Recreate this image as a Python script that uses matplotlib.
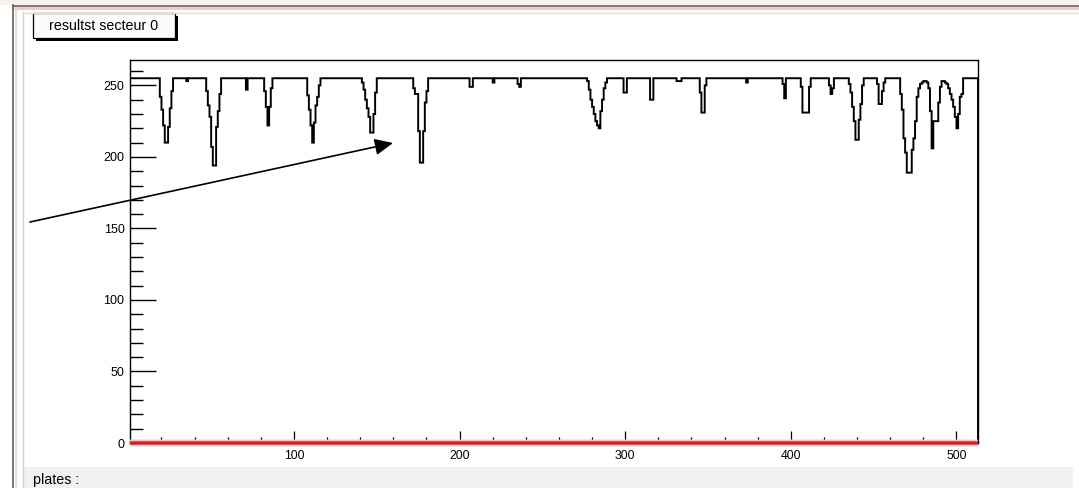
import numpy as np
import matplotlib
matplotlib.use("Agg")
import matplotlib.pyplot as plt
from matplotlib.patches import Rectangle, FancyArrowPatch
from matplotlib.lines import Line2D
from matplotlib.ticker import MultipleLocator

plt.rcParams["font.family"] = ["Liberation Sans", "DejaVu Sans"]

# ---------------- data ----------------
n_bins = 512
x_lo, x_hi = 1, 513
plateau = 255

# first bin of every group of counts that drops below the plateau
dip_start = [19, 35, 47, 71, 82, 108, 141, 172, 206, 220, 235, 277, 299,
             315, 331, 345, 373, 395, 406, 423, 435, 452, 466]
# counts of the consecutive bins of each group
dip_counts = [
    [242, 233, 222, 210, 210, 221, 234, 246],
    [253],
    [246, 236, 228, 207, 194, 194, 221, 232, 244],
    [247],
    [246, 235, 222, 235, 248],
    [243, 233, 222, 210, 224, 236, 242, 250],
    [252, 247, 240, 234, 228, 217, 217, 230, 245],
    [248, 244, 244, 218, 196, 196, 218, 238, 246],
    [249, 249],
    [252],
    [251, 249],
    [253, 247, 240, 235, 230, 225, 222, 220, 232, 240, 248, 252],
    [245, 245],
    [240, 240],
    [253, 253, 253],
    [245, 231, 231, 250],
    [252],
    [251, 241],
    [249, 231, 231, 231, 231, 249],
    [250, 244, 248],
    [251, 245, 235, 225, 212, 212, 226, 237, 250],
    [251, 237, 237, 246, 252],
    [244, 233, 213, 203, 189, 189, 189, 205, 213, 225, 242, 248, 251, 252,
     253, 253, 252, 248, 232, 206, 225, 225, 225, 238, 249, 253, 253, 252,
     251, 248, 244, 240, 235, 228, 220, 230, 242, 244],
]
# second histogram (empty)
empty_counts = [0] * n_bins

title_text = "resultst secteur 0"
status_text = "plates :"

counts = np.full(n_bins, plateau, dtype=float)
for s, vals in zip(dip_start, dip_counts):
    i0 = s - x_lo
    counts[i0:i0 + len(vals)] = vals
edges = np.arange(x_lo, x_hi + 1)

# ---------------- figure ----------------
W, H, DPI = 1079, 488, 100
fig = plt.figure(figsize=(W / DPI, H / DPI), dpi=DPI, facecolor="white")

ax = fig.add_axes([130 / W, 1 - 443 / H, 848 / W, 383 / H])
ax.set_facecolor("white")
ax.stairs(counts, edges, color="black", lw=1.4, zorder=2)
ax.stairs(empty_counts, edges, color="#f4c4c4", lw=5.0, zorder=3, clip_on=False)
ax.stairs(empty_counts, edges, color="#cc1f28", lw=2.4, zorder=4, clip_on=False)

ax.set_xlim(x_lo, x_hi)
ax.set_ylim(0, plateau * 1.05)
ax.xaxis.set_major_locator(MultipleLocator(100))
ax.xaxis.set_minor_locator(MultipleLocator(20))
ax.yaxis.set_major_locator(MultipleLocator(50))
ax.yaxis.set_minor_locator(MultipleLocator(10))

ax.tick_params(axis="x", which="major", direction="in", length=8.6, width=0.9,
               labelsize=8.8, pad=5, top=False)
ax.tick_params(axis="x", which="minor", direction="in", length=4.3, width=0.9,
               top=False)
ax.tick_params(axis="y", which="major", direction="in", length=18.4, width=1.0,
               labelsize=9, pad=4, right=False)
ax.tick_params(axis="y", which="minor", direction="in", length=9.4, width=1.0,
               right=False)
for sp in ax.spines.values():
    sp.set_linewidth(1.0)
    sp.set_color("black")

# ---------------- canvas decorations (pixel coordinates, origin top-left) ----------------
ov = fig.add_axes([0, 0, 1, 1], zorder=10)
ov.set_xlim(0, W)
ov.set_ylim(H, 0)
ov.axis("off")
ov.patch.set_alpha(0)

ov.add_patch(Rectangle((0, 0), W, 5, facecolor="#f6f2ee", edgecolor="none"))
ov.add_line(Line2D([13, W], [5.5, 5.5], color="#6e5c5c", lw=1.2))
ov.add_line(Line2D([13, W], [8, 8], color="#ebcaca", lw=2.0))
ov.add_line(Line2D([13, 13], [5, H], color="#6e5c5c", lw=1.2))
ov.add_line(Line2D([15.5, 15.5], [8, H], color="#ebd4d4", lw=1.2))
ov.add_line(Line2D([23, 23], [12, H], color="#cfcfcf", lw=1.0))
ov.add_line(Line2D([23, W], [12.5, 12.5], color="#dcdcdc", lw=1.0))

# status bar
ov.add_patch(Rectangle((24, 467), 1049, 21, facecolor="#f1f1f1", edgecolor="none"))
ov.text(33, 484, status_text, fontsize=10.3, color="black", va="baseline", ha="left")

# title box with shadow
ov.add_patch(Rectangle((36, 16), 142, 25, facecolor="black", edgecolor="none"))
ov.add_patch(Rectangle((33, 13), 142, 25, facecolor="#fbfbfb", edgecolor="black", lw=0.9))
ov.text(104, 25.5, title_text, fontsize=10.3, color="black", ha="center", va="center")

# pointer
ov.add_patch(FancyArrowPatch((30, 222), (393, 143),
                             arrowstyle="-|>,head_length=1.1,head_width=0.5",
                             mutation_scale=10, color="black", lw=1.2,
                             shrinkA=0, shrinkB=0))

fig.savefig("out.png", dpi=DPI, facecolor="white")
